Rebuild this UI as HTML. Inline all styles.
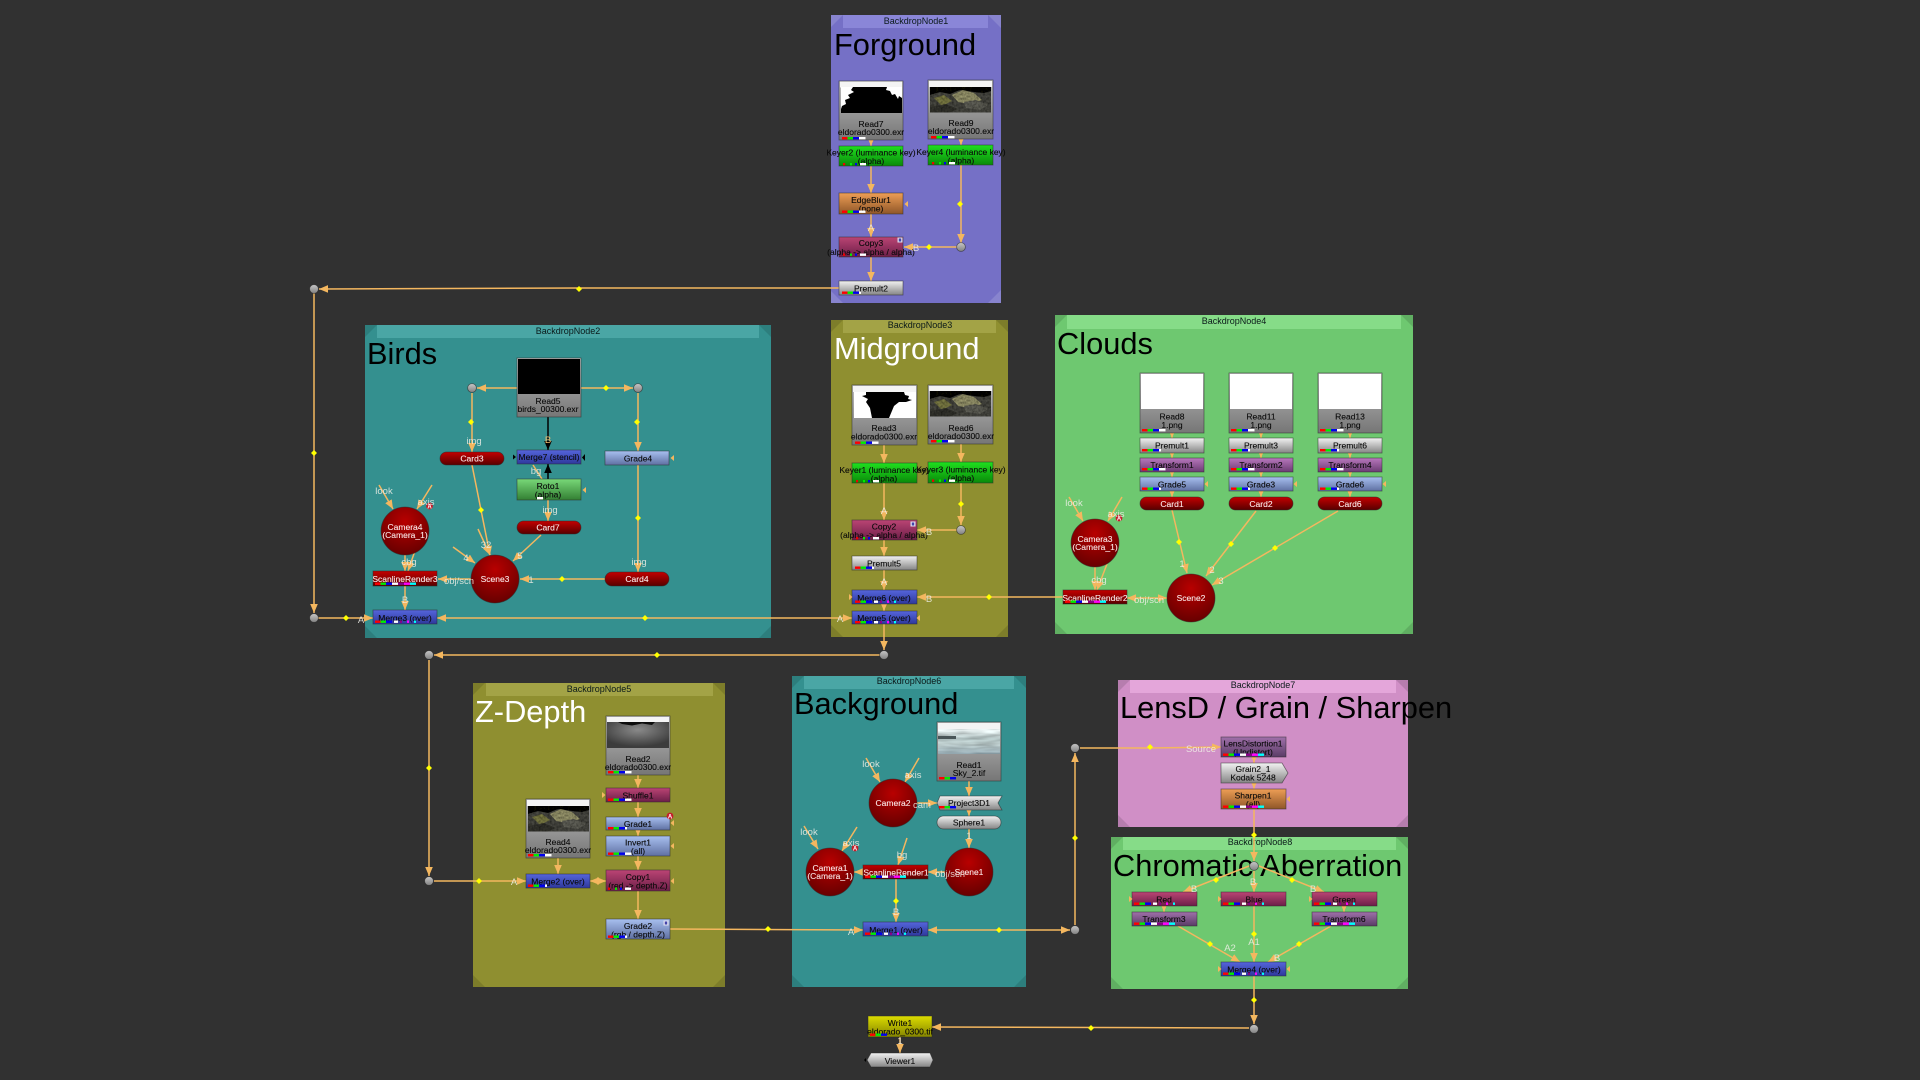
<!DOCTYPE html>
<html><head><meta charset="utf-8"><title>Node graph</title>
<style>
html,body{margin:0;padding:0;background:#313131;width:1920px;height:1080px;overflow:hidden}
svg{display:block;filter:blur(.35px)}
text{font-family:"Liberation Sans",sans-serif}
.t{font-size:30.8px;fill:#000}
.tw{font-size:30.8px;fill:#fff}
.b{font-size:9px;fill:#0b1a1a;text-anchor:middle}
.n{font-size:8.5px;fill:#0a0a0a;stroke:#0a0a0a;stroke-width:.12;text-anchor:middle}
.m{font-size:8.5px;fill:#fbe8e8;stroke:#fbe8e8;stroke-width:.1;text-anchor:middle}
.l{font-size:9.5px;fill:#f0f0e8;fill-opacity:.85;text-anchor:middle}
.o{font-size:9.5px;fill:#f5c070;text-anchor:middle}
.w{fill:none;stroke:#f4b75f;stroke-width:1.5;marker-end:url(#a)}
.w0{fill:none;stroke:#f4b75f;stroke-width:1.5}
.k{fill:none;stroke:#000;stroke-width:1.5;marker-end:url(#ak)}
.s{stroke:#2a2a2a;stroke-opacity:.6;stroke-width:.8}
.c{fill:#000;fill-opacity:.12}
.v{fill:#fff;fill-opacity:.14}
</style></head><body>
<svg width="1920" height="1080" viewBox="0 0 1920 1080" xmlns="http://www.w3.org/2000/svg">
<defs>
<filter id="nz" x="0" y="0" width="1" height="1"><feTurbulence type="fractalNoise" baseFrequency=".45" numOctaves="2" seed="4" result="t"/><feColorMatrix in="t" type="matrix" values="1 0 0 0 0 1 0 0 0 0 1 0 0 0 0 0 0 0 0 1" result="g"/><feComposite in="SourceGraphic" in2="g" operator="arithmetic" k1="1.4" k2=".2" k3="0" k4="0"/></filter>
<filter id="nzs" x="0" y="0" width="1" height="1"><feTurbulence type="fractalNoise" baseFrequency=".04 .3" numOctaves="2" seed="8" result="t"/><feColorMatrix in="t" type="matrix" values="1 0 0 0 0 1 0 0 0 0 1 0 0 0 0 0 0 0 0 1" result="g"/><feComposite in="SourceGraphic" in2="g" operator="arithmetic" k1="1.1" k2=".5" k3="0" k4="0"/></filter>
<marker id="a" markerUnits="userSpaceOnUse" markerWidth="10" markerHeight="8" refX="9" refY="3.8" orient="auto"><path d="M0 0L9 3.8L0 7.6z" fill="#f4b75f"/></marker>
<marker id="a2" markerUnits="userSpaceOnUse" markerWidth="10" markerHeight="8" refX="9" refY="3.8" orient="auto-start-reverse"><path d="M0 0L9 3.8L0 7.6z" fill="#f4b75f"/></marker>
<marker id="ak" markerUnits="userSpaceOnUse" markerWidth="10" markerHeight="8" refX="9" refY="3.8" orient="auto"><path d="M0 0L9 3.8L0 7.6z" fill="#000"/></marker>
<linearGradient id="gR" x1="0" y1="0" x2="0" y2="1"><stop offset="0" stop-color="#bcbcbc"/><stop offset="1" stop-color="#767676"/></linearGradient>
<linearGradient id="gK" x1="0" y1="0" x2="0" y2="1"><stop offset="0" stop-color="#1fe01f"/><stop offset="1" stop-color="#0a8a0a"/></linearGradient>
<linearGradient id="gO" x1="0" y1="0" x2="0" y2="1"><stop offset="0" stop-color="#ee9e55"/><stop offset="1" stop-color="#8f5628"/></linearGradient>
<linearGradient id="gC" x1="0" y1="0" x2="0" y2="1"><stop offset="0" stop-color="#bb4474"/><stop offset="1" stop-color="#6c1f48"/></linearGradient>
<linearGradient id="gP" x1="0" y1="0" x2="0" y2="1"><stop offset="0" stop-color="#f2f2f2"/><stop offset="1" stop-color="#858585"/></linearGradient>
<linearGradient id="gM" x1="0" y1="0" x2="0" y2="1"><stop offset="0" stop-color="#5565dc"/><stop offset="1" stop-color="#2e389c"/></linearGradient>
<linearGradient id="gD" x1="0" y1="0" x2="0" y2="1"><stop offset="0" stop-color="#c40000"/><stop offset="1" stop-color="#580000"/></linearGradient>
<linearGradient id="gG" x1="0" y1="0" x2="0" y2="1"><stop offset="0" stop-color="#a8c0f0"/><stop offset="1" stop-color="#5f70a2"/></linearGradient>
<linearGradient id="gT" x1="0" y1="0" x2="0" y2="1"><stop offset="0" stop-color="#b878bd"/><stop offset="1" stop-color="#6c3c74"/></linearGradient>
<linearGradient id="gE" x1="0" y1="0" x2="0" y2="1"><stop offset="0" stop-color="#78d878"/><stop offset="1" stop-color="#338033"/></linearGradient>
<linearGradient id="gL" x1="0" y1="0" x2="0" y2="1"><stop offset="0" stop-color="#a070aa"/><stop offset="1" stop-color="#5a3c66"/></linearGradient>
<linearGradient id="gW" x1="0" y1="0" x2="0" y2="1"><stop offset="0" stop-color="#dcdc00"/><stop offset="1" stop-color="#858500"/></linearGradient>
<linearGradient id="gDot" x1="0" y1="0" x2="0" y2="1"><stop offset="0" stop-color="#c8c8c8"/><stop offset="1" stop-color="#808080"/></linearGradient>
<radialGradient id="gZ" cx=".5" cy=".3" r=".65"><stop offset="0" stop-color="#8a8a8a"/><stop offset="1" stop-color="#3c3c3c"/></radialGradient>
<linearGradient id="gS" x1="0" y1="0" x2="0" y2="1"><stop offset="0" stop-color="#e4ecec"/><stop offset=".4" stop-color="#a6b6b6"/><stop offset=".6" stop-color="#bccccc"/><stop offset="1" stop-color="#8a9ea6"/></linearGradient>
<radialGradient id="gB" cx=".5" cy=".3" r=".8"><stop offset="0" stop-color="#b80000"/><stop offset="1" stop-color="#5c0000"/></radialGradient>
<path id="y" d="M0-3L3 0L0 3L-3 0z" fill="#ffff00"/>
<path id="sl" d="M0-3L-3.5 0L0 3z" fill="#f4b75f"/>
<path id="sr" d="M0-3L3.5 0L0 3z" fill="#f4b75f"/>
<g id="dot"><circle r="4.4" fill="url(#gDot)" stroke="#222" stroke-opacity=".6" stroke-width=".8"/></g>
<g id="bA"><circle r="3.4" fill="#c41e2a"/><text y="2.4" style="font-size:6px;fill:#fff;text-anchor:middle;font-weight:bold">A</text></g>
<g id="bH"><rect x="-2.5" y="-2.5" width="5" height="5" fill="#dde"/><rect x="-1.2" y="-1.5" width="2.4" height="3" fill="#44a"/></g>
<g id="c4"><rect width="5.5" height="2.4" fill="#f00"/><rect x="5.5" width="5.5" height="2.4" fill="#0e0"/><rect x="11" width="6" height="2.4" fill="#00e"/><rect x="17" width="6.5" height="2.4" fill="#fff"/></g>
<g id="c3"><rect width="5.5" height="2.4" fill="#f00"/><rect x="5.5" width="5.5" height="2.4" fill="#0e0"/><rect x="11" width="6" height="2.4" fill="#00e"/></g>
<g id="cs"><rect width="5.5" height="2.4" fill="#f00"/><rect x="5.5" width="5.5" height="2.4" fill="#0e0"/><rect x="11" width="6" height="2.4" fill="#00e"/><rect x="17" width="2" height="2.4" fill="#fff"/></g>
<g id="c7"><rect width="5.5" height="2.4" fill="#f00"/><rect x="5.5" width="5.5" height="2.4" fill="#0e0"/><rect x="11" width="6" height="2.4" fill="#00e"/><rect x="17" width="6" height="2.4" fill="#fff"/><rect x="23" width="6" height="2.4" fill="#808"/><rect x="29" width="6" height="2.4" fill="#f0f"/><rect x="35" width="6" height="2.4" fill="#0ff"/></g>
<g id="ck"><rect width="2.2" height="2.4" fill="#e00"/><rect x="7" width="2" height="2.4" fill="#0e0"/><rect x="12" width="2" height="2.4" fill="#00e"/><rect x="17" width="6" height="2.4" fill="#fff"/></g>
<g id="cm"><rect width="5.5" height="2.4" fill="#f00"/><rect x="5.5" width="5.5" height="2.4" fill="#0e0"/><rect x="11" width="6" height="2.4" fill="#00e"/><rect x="19" width="4" height="2.4" fill="#fff"/><rect x="25" width="2" height="2.4" fill="#808"/><rect x="32" width="2" height="2.4" fill="#f0f"/><rect x="39" width="2" height="2.4" fill="#0ff"/></g>
<g id="rock" filter="url(#nz)"><rect width="61" height="25.5" fill="#060604"/><path d="M0 8L10 5L20 7L30 3L44 5L54 6L61 4V25.5H0z" fill="#40403a"/><path d="M22 8L33 3L44 6L52 13L40 17L28 15z" fill="#8a8862"/><path d="M4 11L14 8L22 14L12 19z" fill="#6e6e3c"/><path d="M34 15L46 13L58 18L50 23L36 21z" fill="#56564e"/><path d="M0 20L16 17L28 22L20 25.5H0z" fill="#2e2e28"/></g>
</defs>

<rect width="1920" height="1080" fill="#313131"/>

<!-- Backdrops -->
<rect x="831" y="15" width="170" height="288" fill="#7570c6"/><rect x="843" y="15" width="145" height="13" fill="#8a86d8"/><path class="v" d="M831 15h12l-12 12zM1001 15h-13l13 13zM831 303h12l-12-12zM1001 303h-13l13-13z"/>
<rect x="365" y="325" width="406" height="313" fill="#34908f"/><rect x="377" y="325" width="382" height="13" fill="#4aa6a5"/><path class="c" d="M365 325h12l-12 12zM771 325h-12l12 12zM365 638h12l-12-12zM771 638h-12l12-12z"/>
<rect x="831" y="320" width="177" height="317" fill="#8f8f30"/><rect x="843" y="320" width="153" height="13" fill="#a3a346"/><path class="c" d="M831 320h12l-12 12zM1008 320h-12l12 12zM831 637h12l-12-12zM1008 637h-12l12-12z"/>
<rect x="1055" y="315" width="358" height="319" fill="#6ec870"/><rect x="1067" y="315" width="334" height="14" fill="#86dc88"/><path class="c" d="M1055 315h12l-12 12zM1413 315h-12l12 12zM1055 634h12l-12-12zM1413 634h-12l12-12z"/>
<rect x="473" y="683" width="252" height="304" fill="#8f8f30"/><rect x="486" y="683" width="227" height="13" fill="#a3a346"/><path class="c" d="M473 683h12l-12 12zM725 683h-12l12 12zM473 987h12l-12-12zM725 987h-12l12-12z"/>
<rect x="792" y="676" width="234" height="311" fill="#34908f"/><rect x="804" y="676" width="210" height="13" fill="#4aa6a5"/><path class="c" d="M792 676h12l-12 12zM1026 676h-12l12 12zM792 987h12l-12-12zM1026 987h-12l12-12z"/>
<rect x="1118" y="680" width="290" height="147" fill="#d08fc6"/><rect x="1130" y="680" width="266" height="13" fill="#e4a6da"/><path class="c" d="M1118 680h12l-12 12zM1408 680h-12l12 12zM1118 827h12l-12-12zM1408 827h-12l12-12z"/>
<rect x="1111" y="837" width="297" height="152" fill="#6ec870"/><rect x="1123" y="837" width="273" height="13" fill="#86dc88"/><path class="c" d="M1111 837h12l-12 12zM1408 837h-12l12 12zM1111 989h12l-12-12zM1408 989h-12l12-12z"/>

<text class="b" x="916" y="24">BackdropNode1</text><text class="t" x="834" y="55">Forground</text>
<text class="b" x="568" y="334">BackdropNode2</text><text class="t" x="367" y="364">Birds</text>
<text class="b" x="920" y="328">BackdropNode3</text><text class="tw" x="834" y="359">Midground</text>
<text class="b" x="1234" y="324">BackdropNode4</text><text class="t" x="1057" y="354">Clouds</text>
<text class="b" x="599" y="692">BackdropNode5</text><text class="tw" x="475" y="722">Z-Depth</text>
<text class="b" x="909" y="684">BackdropNode6</text><text class="t" x="794" y="714">Background</text>
<text class="b" x="1263" y="688">BackdropNode7</text><text class="t" x="1120" y="718">LensD / Grain / Sharpen</text>
<text class="b" x="1260" y="845">BackdropNode8</text><text class="t" x="1113" y="876">Chromatic Aberration</text>

<!-- Wires -->
<path class="w" d="M871 140V146"/><path class="w" d="M961 139V145"/><path class="w" d="M871 166V193"/><path class="w" d="M871 214V237"/><path class="w" d="M871 257V281"/><path class="w" d="M961 165V243"/><path class="w" d="M957 247H904"/>
<path class="w" d="M839 288H580L319 289"/><path class="w" d="M314 293V613"/><path class="w" d="M318 618H373"/>
<path class="w" style="marker-start:url(#a2)" d="M437 618H852"/>
<path class="w" d="M517 388H477"/><path class="w" d="M581 388H633"/><path class="w" d="M472 393V452"/><path class="w" d="M638 393V451"/><path class="w" d="M638 465V572"/>
<path class="k" d="M548 417V450"/><path class="k" d="M548 479V464"/><path class="w0" d="M533 465L542 479"/>
<path class="w" d="M548 500V521"/><path class="w" d="M472 465L490 555"/><path class="w" d="M478 529L490 555"/><path class="w" d="M453 547L475 563"/><path class="w" d="M541 535L513 561"/><path class="w" d="M605 579H520"/><path class="w" d="M471 579H438"/>
<path class="w" d="M379 485L393 509"/><path class="w" d="M432 485L417 509"/><path class="w" d="M405 555V571"/><path class="w" d="M417 545L408 571"/><path class="w" d="M405 586V610"/>
<path class="w" d="M884 445V463"/><path class="w" d="M961 444V462"/><path class="w" d="M884 483V520"/><path class="w" d="M961 483V525"/><path class="w" d="M957 530H917"/><path class="w" d="M884 540V556"/><path class="w" d="M884 570V590"/><path class="w" d="M884 604V611"/><path class="w" d="M884 624V650"/><path class="w" d="M1063 597H917"/><path class="w" d="M880 655H434"/>
<path class="w" d="M1172 433V438"/><path class="w" d="M1172 453V458"/><path class="w" d="M1172 472V477"/><path class="w" d="M1172 491V497"/>
<path class="w" d="M1261 433V438"/><path class="w" d="M1261 453V458"/><path class="w" d="M1261 472V477"/><path class="w" d="M1261 491V497"/>
<path class="w" d="M1350 433V438"/><path class="w" d="M1350 453V458"/><path class="w" d="M1350 472V477"/><path class="w" d="M1350 491V497"/>
<path class="w" d="M1172 510L1187 573"/><path class="w" d="M1256 511L1206 576"/><path class="w" d="M1338 511L1212 585"/>
<path class="w" style="marker-start:url(#a2)" d="M1127 598H1167"/>
<path class="w" d="M1069 497L1083 521"/><path class="w" d="M1122 497L1108 521"/><path class="w" d="M1095 567V590"/><path class="w" d="M1107 564L1097 590"/>
<path class="w" d="M429 660V876"/><path class="w" d="M434 881H526"/><path class="w" d="M558 858V874"/><path class="w" style="marker-start:url(#a2)" d="M590 881H606"/>
<path class="w" d="M638 775V788"/><path class="w" d="M638 802V817"/><path class="w" d="M638 830V836"/><path class="w" d="M638 856V870"/><path class="w" d="M638 891V919"/><path class="w" d="M670 929L863 930"/>
<path class="w" d="M969 781V796"/><path class="w" d="M969 810V816"/><path class="w" d="M969 829V848"/><path class="w" d="M917 803H937"/>
<path class="w" d="M866 758L880 782"/><path class="w" d="M919 758L905 782"/><path class="w" d="M804 826L818 849"/><path class="w" d="M857 827L842 851"/><path class="w" d="M863 872H854"/><path class="w" d="M945 872H928"/><path class="w" d="M907 838L898 865"/><path class="w" d="M896 879V922"/>
<path class="w" style="marker-start:url(#a2)" d="M928 930H1070"/><path class="w" d="M1075 925V753"/><path class="w" d="M1080 748H1150L1221 747"/>
<path class="w" d="M1254 757V763"/><path class="w" d="M1254 783V789"/><path class="w" d="M1254 809V861"/><path class="w" d="M1249 866L1183 892"/><path class="w" d="M1259 866L1324 892"/><path class="w" d="M1254 871V892"/>
<path class="w" d="M1164 906V912"/><path class="w" d="M1344 906V912"/><path class="w" d="M1178 926L1240 962"/><path class="w" d="M1254 906V962"/><path class="w" d="M1331 926L1268 962"/><path class="w" d="M1254 976V1024"/><path class="w" d="M1249 1028L932 1027"/><path class="w" d="M900 1037V1053"/>

<!-- Diamonds -->
<use href="#y" x="960" y="204"/><use href="#y" x="929" y="247"/><use href="#y" x="579" y="289"/><use href="#y" x="314" y="453"/><use href="#y" x="346" y="618"/><use href="#y" x="645" y="618"/><use href="#y" x="606" y="388"/><use href="#y" x="471" y="422"/><use href="#y" x="637" y="422"/><use href="#y" x="638" y="518"/><use href="#y" x="481" y="510"/><use href="#y" x="562" y="579"/><use href="#y" x="961" y="504"/><use href="#y" x="989" y="597"/><use href="#y" x="1179" y="542"/><use href="#y" x="1231" y="544"/><use href="#y" x="1275" y="548"/><use href="#y" x="657" y="655"/><use href="#y" x="429" y="768"/><use href="#y" x="479" y="881"/><use href="#y" x="768" y="929"/><use href="#y" x="896" y="901"/><use href="#y" x="999" y="930"/><use href="#y" x="1075" y="838"/><use href="#y" x="1150" y="747"/><use href="#y" x="1254" y="835"/><use href="#y" x="1216" y="880"/><use href="#y" x="1292" y="880"/><use href="#y" x="1254" y="934"/><use href="#y" x="1210" y="944"/><use href="#y" x="1299" y="944"/><use href="#y" x="1254" y="1000"/><use href="#y" x="1091" y="1028"/>

<!-- Dots -->
<use href="#dot" x="961" y="247"/><use href="#dot" x="314" y="289"/><use href="#dot" x="314" y="618"/><use href="#dot" x="472" y="388"/><use href="#dot" x="638" y="388"/><use href="#dot" x="961" y="530"/><use href="#dot" x="884" y="655"/><use href="#dot" x="429" y="655"/><use href="#dot" x="429" y="881"/><use href="#dot" x="1075" y="748"/><use href="#dot" x="1075" y="930"/><use href="#dot" x="1254" y="866"/><use href="#dot" x="1254" y="1029"/>

<!-- Forground nodes -->
<rect class="s" x="839" y="81" width="64" height="59" fill="url(#gR)"/><rect x="840" y="81.5" width="62" height="6" fill="#f4f4f4"/><rect x="841" y="87" width="61" height="26" fill="#000"/><path d="M841 87H853L851 90L854 92L848 95L850 98L845 100L846 104L842 106L841 109zM887 87H902V98L899 96L898 99L895 94L892 95L890 91L886 90z" fill="#fff"/>
<text class="n" x="871" y="127">Read7</text><text class="n" x="871" y="135">eldorado0300.exr</text><use href="#c4" x="842" y="137"/>
<rect class="s" x="928" y="80" width="65" height="59" fill="url(#gR)"/><rect x="929" y="81" width="63" height="6" fill="#f4f4f4"/><use href="#rock" x="930" y="87"/>
<text class="n" x="961" y="126">Read9</text><text class="n" x="961" y="134">eldorado0300.exr</text><use href="#c4" x="931" y="136"/>
<rect class="s" x="839" y="146" width="64" height="20" fill="url(#gK)"/><text class="n" x="871" y="155.5">Keyer2 (luminance key)</text><text class="n" x="871" y="164">(alpha)</text><use href="#ck" x="843" y="163"/>
<rect class="s" x="928" y="145" width="65" height="20" fill="url(#gK)"/><text class="n" x="961" y="155">Keyer4 (luminance key)</text><text class="n" x="961" y="163.5">(alpha)</text><use href="#ck" x="932" y="162"/>
<rect class="s" x="839" y="193" width="64" height="21" fill="url(#gO)"/><text class="n" x="871" y="203">EdgeBlur1</text><text class="n" x="871" y="211.5">(none)</text><use href="#c4" x="842" y="210.5"/><use href="#sl" x="908" y="204"/>
<rect class="s" x="839" y="237" width="64" height="20" fill="url(#gC)"/><text class="n" x="871" y="246">Copy3</text><text class="n" x="871" y="255">(alpha -&gt; alpha / alpha)</text><use href="#ck" x="843" y="253.5"/><use href="#bH" x="900" y="240"/>
<rect class="s" x="839" y="281" width="64" height="14" fill="url(#gP)"/><text class="n" x="871" y="291.5">Premult2</text><use href="#cs" x="842" y="291.5"/>
<text class="l" x="871" y="231">A</text><text class="l" x="916" y="251">B</text>

<!-- Birds nodes -->
<rect class="s" x="517" y="358" width="64" height="59" fill="url(#gR)"/><rect x="518" y="359" width="62" height="35" fill="#000"/>
<text class="n" x="548" y="404">Read5</text><text class="n" x="548" y="412">birds_00300.exr</text>
<rect class="s" x="440" y="452" width="64" height="13" rx="6.5" fill="url(#gD)"/><text class="m" x="472" y="461.5">Card3</text>
<rect class="s" x="517" y="450" width="64" height="14" fill="url(#gM)"/><text class="n" x="549" y="460">Merge7 (stencil)</text>
<path d="M513 454.5v5l3-2.5zM585 454v7l-3-3.5z" fill="#000"/>
<rect class="s" x="605" y="451" width="64" height="14" fill="url(#gG)"/><text class="n" x="638" y="461.5">Grade4</text><use href="#sl" x="674" y="458"/>
<rect class="s" x="517" y="479" width="64" height="21" fill="url(#gE)"/><text class="n" x="548" y="489">Roto1</text><text class="n" x="548" y="497.5">(alpha)</text><rect x="537" y="497" width="6" height="2.4" fill="#fff"/><use href="#sl" x="586" y="490"/>
<rect class="s" x="517" y="521" width="64" height="13" rx="6.5" fill="url(#gD)"/><text class="m" x="548" y="530.5">Card7</text>
<circle cx="405" cy="531" r="24" fill="url(#gB)" class="s"/><text class="m" x="405" y="530">Camera4</text><text class="m" x="405" y="538">(Camera_1)</text>
<circle cx="495" cy="579" r="24" fill="url(#gB)" class="s"/><text class="m" x="495" y="582">Scene3</text>
<rect class="s" x="373" y="571" width="64" height="15" fill="url(#gD)"/><text class="m" x="405" y="582">ScanlineRender3</text><use href="#c7" x="375" y="582.5"/>
<rect class="s" x="605" y="572" width="64" height="14" rx="7" fill="url(#gD)"/><text class="m" x="637" y="582">Card4</text>
<rect class="s" x="373" y="610" width="64" height="14" fill="url(#gM)"/><text class="n" x="405" y="621">Merge3 (over)</text><use href="#cm" x="375" y="620.5"/>
<use href="#bA" x="429.5" y="506"/>
<text class="l" x="384" y="494">look</text><text class="l" x="426" y="505">axis</text><text class="l" x="409" y="565">cbg</text><text class="l" x="405" y="603">B</text><text class="l" x="361" y="623">A</text><text class="l" x="459" y="584">obj/scn</text><text class="l" x="474" y="444">img</text><text class="l" x="536" y="474">bg</text><text class="l" x="550" y="513">img</text><text class="l" x="639" y="565">img</text><text class="l" x="486" y="548">32</text><text class="l" x="466" y="561">4</text><text class="l" x="520" y="559">5</text><text class="l" x="531" y="583">1</text><text class="o" x="548" y="443">B</text>

<!-- Midground nodes -->
<rect class="s" x="852" y="385" width="65" height="60" fill="url(#gR)"/><rect x="853" y="386" width="63" height="6" fill="#f4f4f4"/><rect x="854" y="392" width="62" height="26" fill="#fff"/><path d="M866 392H904L905 395L909 396L908 399L912 400L906 402L899 402L894 406L889 418H872L870 408L866 402L868 399L862 396L866 395z" fill="#000"/>
<text class="n" x="884" y="431">Read3</text><text class="n" x="884" y="439.5">eldorado0300.exr</text><use href="#c4" x="855" y="441.5"/>
<rect class="s" x="928" y="385" width="65" height="59" fill="url(#gR)"/><rect x="929" y="386" width="63" height="5" fill="#f4f4f4"/><use href="#rock" x="930" y="391"/>
<text class="n" x="961" y="431">Read6</text><text class="n" x="961" y="439">eldorado0300.exr</text><use href="#c4" x="931" y="440"/>
<rect class="s" x="852" y="463" width="65" height="20" fill="url(#gK)"/><text class="n" x="884" y="473">Keyer1 (luminance key)</text><text class="n" x="884" y="481.5">(alpha)</text><use href="#ck" x="856" y="480"/>
<rect class="s" x="928" y="462" width="65" height="21" fill="url(#gK)"/><text class="n" x="961" y="472.5">Keyer3 (luminance key)</text><text class="n" x="961" y="481">(alpha)</text><use href="#ck" x="932" y="479.5"/>
<rect class="s" x="852" y="520" width="65" height="20" fill="url(#gC)"/><text class="n" x="884" y="529.5">Copy2</text><text class="n" x="884" y="538">(alpha -&gt; alpha / alpha)</text><use href="#ck" x="856" y="537"/><use href="#bH" x="913" y="524"/>
<rect class="s" x="852" y="556" width="65" height="14" fill="url(#gP)"/><text class="n" x="884" y="566.5">Premult5</text><use href="#cs" x="855" y="566.5"/>
<rect class="s" x="852" y="590" width="65" height="14" fill="url(#gM)"/><text class="n" x="884" y="601">Merge6 (over)</text><use href="#cm" x="855" y="600.5"/><use href="#sr" x="849" y="597"/>
<rect class="s" x="852" y="611" width="65" height="13" fill="url(#gM)"/><text class="n" x="884" y="621">Merge5 (over)</text><use href="#cm" x="855" y="621"/><use href="#sl" x="920" y="618"/>
<text class="l" x="884" y="514">A</text><text class="l" x="929" y="535">B</text><text class="l" x="884" y="585">A</text><text class="l" x="929" y="602">B</text><text class="l" x="840" y="622">A</text>

<!-- Clouds nodes -->
<rect class="s" x="1140" y="373" width="64" height="60" fill="url(#gR)"/><rect x="1141" y="374" width="62" height="35" fill="#fff"/><text class="n" x="1172" y="419.5">Read8</text><text class="n" x="1172" y="428">1.png</text><use href="#c4" x="1142" y="429"/>
<rect class="s" x="1229" y="373" width="64" height="60" fill="url(#gR)"/><rect x="1230" y="374" width="62" height="35" fill="#fff"/><text class="n" x="1261" y="419.5">Read11</text><text class="n" x="1261" y="428">1.png</text><use href="#c4" x="1231" y="429"/>
<rect class="s" x="1318" y="373" width="64" height="60" fill="url(#gR)"/><rect x="1319" y="374" width="62" height="35" fill="#fff"/><text class="n" x="1350" y="419.5">Read13</text><text class="n" x="1350" y="428">1.png</text><use href="#c4" x="1320" y="429"/>
<rect class="s" x="1140" y="438" width="64" height="15" fill="url(#gP)"/><text class="n" x="1172" y="448.5">Premult1</text><use href="#cs" x="1142" y="449"/>
<rect class="s" x="1229" y="438" width="64" height="15" fill="url(#gP)"/><text class="n" x="1261" y="448.5">Premult3</text><use href="#cs" x="1231" y="449"/>
<rect class="s" x="1318" y="438" width="64" height="15" fill="url(#gP)"/><text class="n" x="1350" y="448.5">Premult6</text><use href="#cs" x="1320" y="449"/>
<rect class="s" x="1140" y="458" width="64" height="14" fill="url(#gT)"/><text class="n" x="1172" y="468">Transform1</text><use href="#c4" x="1142" y="468"/>
<rect class="s" x="1229" y="458" width="64" height="14" fill="url(#gT)"/><text class="n" x="1261" y="468">Transform2</text><use href="#c4" x="1231" y="468"/>
<rect class="s" x="1318" y="458" width="64" height="14" fill="url(#gT)"/><text class="n" x="1350" y="468">Transform4</text><use href="#c4" x="1320" y="468"/>
<rect class="s" x="1140" y="477" width="64" height="14" fill="url(#gG)"/><text class="n" x="1172" y="487.5">Grade5</text><use href="#cs" x="1142" y="487.5"/><use href="#sl" x="1208" y="484"/>
<rect class="s" x="1229" y="477" width="64" height="14" fill="url(#gG)"/><text class="n" x="1261" y="487.5">Grade3</text><use href="#cs" x="1231" y="487.5"/><use href="#sl" x="1297" y="484"/>
<rect class="s" x="1318" y="477" width="64" height="14" fill="url(#gG)"/><text class="n" x="1350" y="487.5">Grade6</text><use href="#cs" x="1320" y="487.5"/><use href="#sl" x="1386" y="484"/>
<rect class="s" x="1140" y="497" width="64" height="13" rx="6.5" fill="url(#gD)"/><text class="m" x="1172" y="507">Card1</text>
<rect class="s" x="1229" y="497" width="64" height="13" rx="6.5" fill="url(#gD)"/><text class="m" x="1261" y="507">Card2</text>
<rect class="s" x="1318" y="497" width="64" height="13" rx="6.5" fill="url(#gD)"/><text class="m" x="1350" y="507">Card6</text>
<circle cx="1095" cy="543" r="24" fill="url(#gB)" class="s"/><text class="m" x="1095" y="542">Camera3</text><text class="m" x="1095" y="550">(Camera_1)</text>
<circle cx="1191" cy="598" r="24" fill="url(#gB)" class="s"/><text class="m" x="1191" y="601">Scene2</text>
<rect class="s" x="1063" y="590" width="64" height="14" fill="url(#gD)"/><text class="m" x="1095" y="601">ScanlineRender2</text><use href="#c7" x="1065" y="600.5"/>
<use href="#bA" x="1119" y="518"/>
<text class="l" x="1074" y="506">look</text><text class="l" x="1116" y="517">axis</text><text class="l" x="1099" y="583">cbg</text><text class="l" x="1149" y="603">obj/scn</text><text class="l" x="1182" y="567">1</text><text class="l" x="1212" y="573">2</text><text class="l" x="1221" y="584">3</text>

<!-- Z-Depth nodes -->
<rect class="s" x="606" y="716" width="64" height="59" fill="url(#gR)"/><rect x="607" y="717" width="62" height="5" fill="#f4f4f4"/><rect x="607" y="722" width="62" height="26" fill="url(#gZ)"/><path d="M618 722H655L652 725L642 723.5L632 725.5L622 724z" fill="#0c0c0c"/>
<text class="n" x="638" y="762">Read2</text><text class="n" x="638" y="770">eldorado0300.exr</text><use href="#c4" x="608" y="771"/>
<rect class="s" x="606" y="788" width="64" height="14" fill="url(#gC)"/><text class="n" x="638" y="798.5">Shuffle1</text><use href="#c4" x="608" y="798.5"/><use href="#sr" x="602" y="795"/>
<rect class="s" x="606" y="817" width="64" height="13" fill="url(#gG)"/><text class="n" x="638" y="827">Grade1</text><use href="#cs" x="608" y="827"/><use href="#bA" x="670" y="816"/><use href="#sl" x="674" y="823"/>
<rect class="s" x="606" y="836" width="64" height="20" fill="url(#gG)"/><text class="n" x="638" y="845.5">Invert1</text><text class="n" x="638" y="854">(all)</text><use href="#c4" x="608" y="852.5"/><use href="#sl" x="674" y="846"/>
<rect class="s" x="606" y="870" width="64" height="21" fill="url(#gC)"/><text class="n" x="638" y="880">Copy1</text><text class="n" x="638" y="888.5">(red -&gt; depth.Z)</text><use href="#ck" x="608" y="887.5"/><use href="#sl" x="674" y="881"/>
<rect class="s" x="606" y="919" width="64" height="20" fill="url(#gG)"/><text class="n" x="638" y="929">Grade2</text><text class="n" x="638" y="937.5">(rgb / depth.Z)</text><use href="#cs" x="608" y="935.5"/><use href="#bH" x="666" y="923"/>
<rect class="s" x="526" y="799" width="64" height="59" fill="url(#gR)"/><rect x="527" y="800" width="62" height="6" fill="#f4f4f4"/><use href="#rock" x="528" y="806"/>
<text class="n" x="558" y="845">Read4</text><text class="n" x="558" y="853">eldorado0300.exr</text><use href="#c4" x="528" y="854"/>
<rect class="s" x="526" y="874" width="64" height="14" fill="url(#gM)"/><text class="n" x="558" y="884.5">Merge2 (over)</text><use href="#cs" x="528" y="884.5"/>
<text class="l" x="514" y="885">A</text>

<!-- Background nodes -->
<rect class="s" x="937" y="722" width="64" height="59" fill="url(#gR)"/><rect x="938" y="723" width="62" height="6" fill="#f4f4f4"/><rect x="938" y="729" width="62" height="25" fill="url(#gS)" filter="url(#nzs)"/><rect x="938" y="736" width="18" height="3" fill="#4a5658"/>
<text class="n" x="969" y="768">Read1</text><text class="n" x="969" y="776">Sky_2.tif</text><use href="#c3" x="939" y="777"/>
<path class="s" d="M940 796H1002L998 803L1002 810H940L937 803z" fill="url(#gP)"/><text class="n" x="969" y="806">Project3D1</text><use href="#c3" x="939" y="806"/>
<rect class="s" x="937" y="816" width="64" height="13" rx="6.5" fill="url(#gP)"/><text class="n" x="969" y="825.5">Sphere1</text>
<circle cx="893" cy="803" r="24" fill="url(#gB)" class="s"/><text class="m" x="893" y="806">Camera2</text>
<circle cx="830" cy="872" r="24" fill="url(#gB)" class="s"/><text class="m" x="830" y="871">Camera1</text><text class="m" x="830" y="879">(Camera_1)</text>
<circle cx="969" cy="872" r="24" fill="url(#gB)" class="s"/><text class="m" x="969" y="875">Scene1</text>
<rect class="s" x="863" y="865" width="65" height="14" fill="url(#gD)"/><text class="m" x="896" y="875.5">ScanlineRender1</text><use href="#c7" x="865" y="875.5"/>
<rect class="s" x="863" y="922" width="65" height="14" fill="url(#gM)"/><text class="n" x="896" y="933">Merge1 (over)</text><use href="#cm" x="865" y="932.5"/>
<use href="#bA" x="855" y="848"/>
<text class="l" x="871" y="767">look</text><text class="l" x="913" y="778">axis</text><text class="l" x="922" y="808">cam</text><text class="l" x="809" y="835">look</text><text class="l" x="851" y="846">axis</text><text class="l" x="902" y="858">bg</text><text class="l" x="950" y="877">obj/scn</text><text class="l" x="969" y="839">1</text><text class="l" x="896" y="915">B</text><text class="l" x="851" y="935">A</text>

<!-- Lens nodes -->
<rect class="s" x="1221" y="737" width="65" height="20" fill="url(#gL)"/><text class="n" x="1253" y="746.5">LensDistortion1</text><text class="n" x="1253" y="755">(Undistort)</text><use href="#c7" x="1223" y="753.5"/>
<path class="s" d="M1221 763H1282L1288 773L1282 783H1221z" fill="url(#gP)"/><text class="n" x="1253" y="772">Grain2_1</text><text class="n" x="1253" y="780.5">Kodak 5248</text>
<rect class="s" x="1221" y="789" width="65" height="20" fill="url(#gO)"/><text class="n" x="1253" y="798.5">Sharpen1</text><text class="n" x="1253" y="807">(all)</text><use href="#c7" x="1223" y="805.5"/><use href="#sl" x="1290" y="799"/>
<text class="l" x="1201" y="752">Source</text>

<!-- Chromatic nodes -->
<rect class="s" x="1132" y="892" width="65" height="14" fill="url(#gC)"/><text class="n" x="1164" y="902.5">Red</text><use href="#cm" x="1134" y="902.5"/><use href="#sr" x="1129" y="899"/>
<rect class="s" x="1221" y="892" width="65" height="14" fill="url(#gC)"/><text class="n" x="1254" y="902.5">Blue</text><use href="#cm" x="1223" y="902.5"/><use href="#sr" x="1218" y="899"/>
<rect class="s" x="1312" y="892" width="65" height="14" fill="url(#gC)"/><text class="n" x="1344" y="902.5">Green</text><use href="#cm" x="1314" y="902.5"/><use href="#sr" x="1309" y="899"/>
<rect class="s" x="1132" y="912" width="65" height="14" fill="url(#gL)"/><text class="n" x="1164" y="922">Transform3</text><use href="#c7" x="1134" y="922.5"/>
<rect class="s" x="1312" y="912" width="65" height="14" fill="url(#gL)"/><text class="n" x="1344" y="922">Transform6</text><use href="#c7" x="1314" y="922.5"/>
<rect class="s" x="1221" y="962" width="65" height="14" fill="url(#gM)"/><text class="n" x="1254" y="972.5">Merge4 (over)</text><use href="#cm" x="1223" y="972.5"/><use href="#sr" x="1218" y="969"/><use href="#sl" x="1290" y="969"/>
<text class="l" x="1194" y="892">B</text><text class="l" x="1253" y="885">B</text><text class="l" x="1313" y="892">B</text><text class="l" x="1230" y="951">A2</text><text class="l" x="1254" y="945">A1</text><text class="l" x="1277" y="961">B</text>

<!-- Write / Viewer -->
<rect class="s" x="868" y="1016" width="64" height="21" fill="url(#gW)"/><text class="n" x="900" y="1026">Write1</text><text class="n" x="900" y="1034.5">eldorado_0300.tif</text><use href="#c3" x="870" y="1033.5"/>
<path class="s" d="M871 1053H930L933 1060L930 1067H871L867 1060z" fill="url(#gP)"/><text class="n" x="900" y="1064">Viewer1</text>
<path d="M866 1058v4l-2-2z" fill="#000"/>
<text class="l" x="900" y="1044">1</text>
</svg>
</body></html>
